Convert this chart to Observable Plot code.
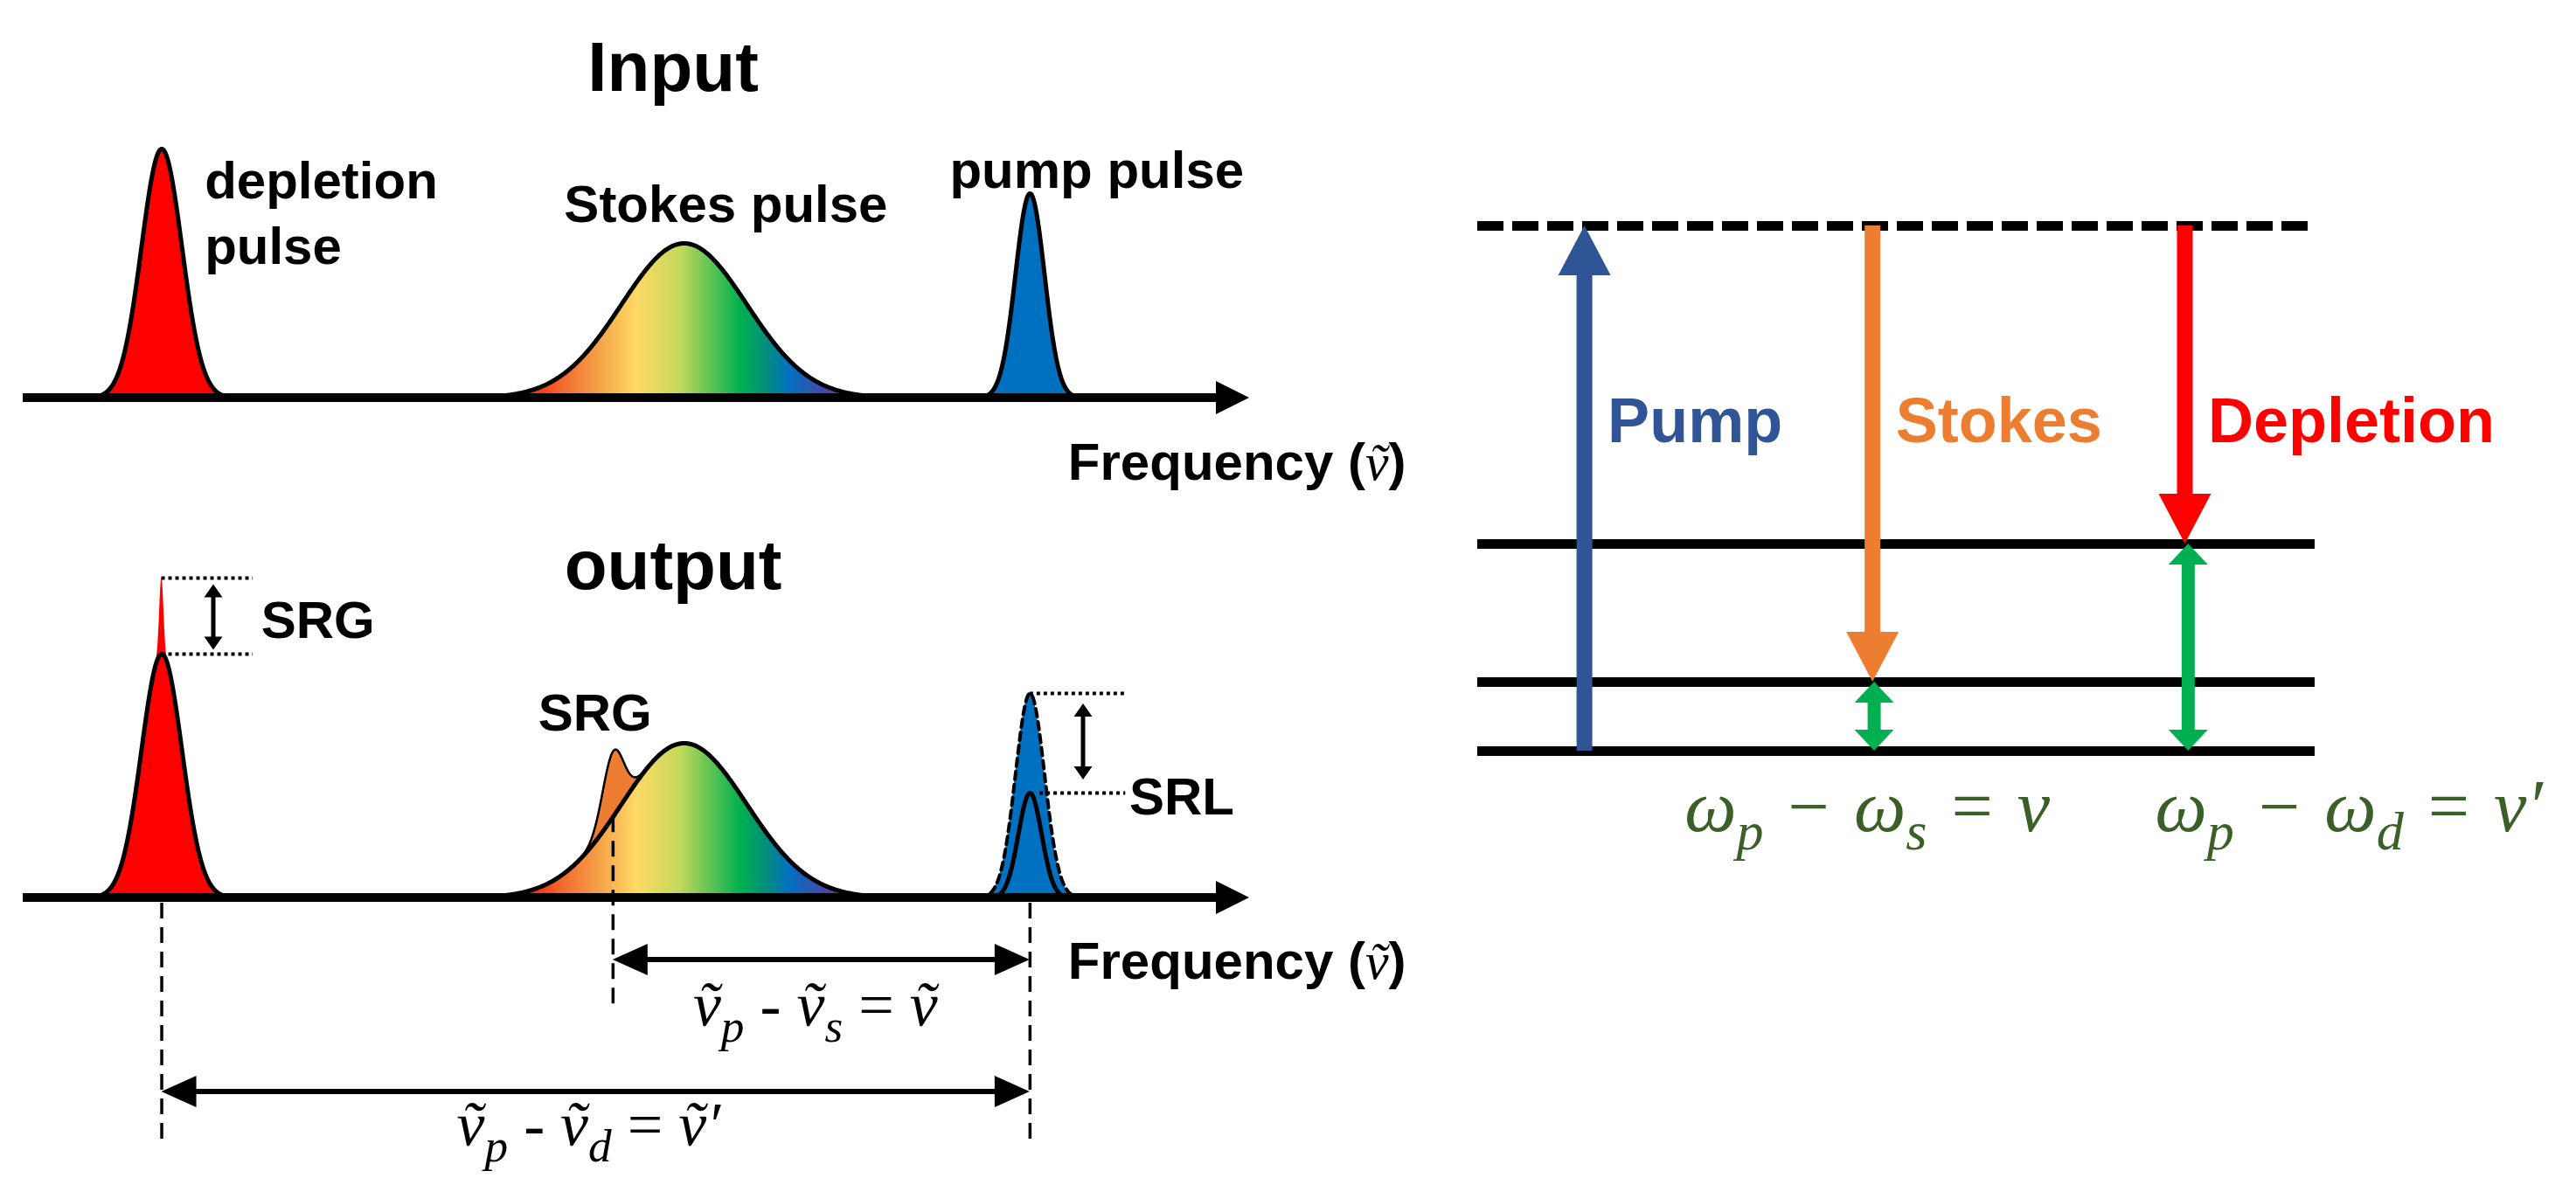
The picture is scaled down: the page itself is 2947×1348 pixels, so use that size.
<!DOCTYPE html>
<html>
<head>
<meta charset="utf-8">
<script src="https://cdn.jsdelivr.net/npm/d3@7"></script>
<script src="https://cdn.jsdelivr.net/npm/@observablehq/plot@0.6"></script>
<style>
  html, body { margin: 0; padding: 0; background: #fff; }
  #figure { position: relative; width: 2947px; height: 1348px; overflow: hidden; background: #fff; }
  #figure > svg { position: absolute; }
</style>
</head>
<body>
<div id="figure"></div>
<script>
// ================= DATA =================
// Spectral pulses (frequency and intensity in arbitrary units)
const pulseNames  = ["depletion", "Stokes", "pump"];
const pulseCenter = [11.3, 53.9, 82.1];
const pulseSigma  = [1.65, 5.1, 1.18];
const inputAmp    = [0.95, 0.59, 0.78];
const outputAmp   = [0.93, 0.59, 0.40];
const outputSigma = [1.65, 5.1, 0.95];
// Stimulated Raman gain features added to the output spectrum
const gainNames  = ["SRG depletion", "SRG Stokes"];
const gainCenter = [11.3, 48.1];
const gainSigma  = [0.17, 0.85];
const gainAmp    = [0.29, 0.25];
// Colour gradient of the broadband Stokes pulse (frequency -> colour)
const gradFreq  = [40, 44, 47, 50, 53.5, 58.5, 60.5, 62.5, 67];
const gradColor = ["#FF0000", "#F26B2E", "#F5A247", "#FFD966", "#C5D95A", "#00B050", "#00907A", "#0070C0", "#7030A0"];
// Energy-level diagram
const levelNames      = ["ground", "\u03BD", "\u03BD\u2032", "virtual"];
const levelEnergy     = [0, 0.79, 2.37, 6.01];
const transitionNames = ["Pump", "Stokes", "Depletion"];
const transitionFrom  = [0, 3, 3];
const transitionTo    = [3, 1, 2];
const transitionPos   = [0.128, 0.472, 0.845];
const vibrationLevel  = [1, 2];
const vibrationPos    = [0.474, 0.849];
const SP = "\u2004";
const equations   = [`\u03C9_p${SP}\u2212${SP}\u03C9_s${SP}=${SP}\u03BD`, `\u03C9_p${SP}\u2212${SP}\u03C9_d${SP}=${SP}\u03BD\u2032`];
const shiftLabels = ["\u1E7D_p - \u1E7D_s = \u1E7D", "\u1E7D_p - \u1E7D_d = \u1E7D\u2032"];
const axisLabel   = "Frequency (\u1E7D)";

// ================= STYLE =================
const SANS  = "'Liberation Sans', Arial, sans-serif";
const SERIF = "'Liberation Serif', 'DejaVu Serif', serif";
const C = {
  depletion: "#FF0000", gain: "#ED7D31", pump: "#0070C0",
  tr: ["#2F5597", "#ED7D31", "#FF0000"], vib: "#00B050", eq: "#3A5F27"
};
const STYLE = {background: "none", overflow: "visible", maxWidth: "none"};

// ================= HELPERS =================
const gaussian = (c, s, a) => f => a * Math.exp(-0.5 * ((f - c) / s) ** 2);
function sampleCurve(lo, hi, fns, n = 600) {
  const pts = [];
  for (let i = 0; i <= n; i++) {
    const f = lo + (hi - lo) * i / n;
    pts.push({f, v: d3.sum(fns, g => g(f))});
  }
  return pts;
}
// arrows drawn from data coordinates via the plot scales (head sizes in px)
function arrowMark(rows, {stroke = "#000", width = 6, headLength = 30, headWidth = 30, heads = "end"} = {}) {
  return (index, scales) => {
    const g = d3.create("svg:g");
    for (const r of rows) {
      const col = r.color ?? stroke;
      const X1 = scales.x(r.x1), Y1 = scales.y(r.y1), X2 = scales.x(r.x2), Y2 = scales.y(r.y2);
      const L = Math.hypot(X2 - X1, Y2 - Y1), ux = (X2 - X1) / L, uy = (Y2 - Y1) / L;
      const hs = heads === "both" || heads === "start", he = heads === "both" || heads === "end";
      const a = hs ? headLength * 0.8 : 0, b = he ? headLength * 0.8 : 0;
      g.append("line")
        .attr("x1", X1 + ux * a).attr("y1", Y1 + uy * a)
        .attr("x2", X2 - ux * b).attr("y2", Y2 - uy * b)
        .attr("stroke", col).attr("stroke-width", width);
      const head = (tx, ty, dx, dy) => {
        const bx = tx - dx * headLength, by = ty - dy * headLength, hw = headWidth / 2;
        return [[tx, ty], [bx - dy * hw, by + dx * hw], [bx + dy * hw, by - dx * hw]].map(p => p.join(",")).join(" ");
      };
      if (he) g.append("polygon").attr("points", head(X2, Y2, ux, uy)).attr("fill", col);
      if (hs) g.append("polygon").attr("points", head(X1, Y1, -ux, -uy)).attr("fill", col);
    }
    return g.node();
  };
}
function gradientDefs(id) {
  return (index, {x}) => {
    const defs = d3.create("svg:defs");
    const lg = defs.append("linearGradient").attr("id", id).attr("gradientUnits", "userSpaceOnUse")
      .attr("x1", x(gradFreq[0])).attr("x2", x(gradFreq[gradFreq.length - 1])).attr("y1", 0).attr("y2", 0);
    const span = gradFreq[gradFreq.length - 1] - gradFreq[0];
    gradFreq.forEach((f, i) => lg.append("stop").attr("offset", (f - gradFreq[0]) / span).attr("stop-color", gradColor[i]));
    return defs.node();
  };
}
const txt = (texts, xs, ys, o = {}) => Plot.text(texts, {
  x: (d, i) => xs[i], y: (d, i) => ys[i], lineAnchor: "bottom",
  fontFamily: SANS, fontWeight: "bold", fill: "#000", textAnchor: "start", ...o
});
// subscripts (_x) and math symbols rendered as real tspans
const MATH = /[\u03BD\u03C9\u1E7D]/;
function richify(svg) {
  svg.querySelectorAll("text").forEach(t => {
    const s = t.textContent;
    if (!/[_\u03BD\u03C9\u1E7D]/.test(s)) return;
    const fs = parseFloat(getComputedStyle(t).fontSize);
    const segs = [];
    for (let i = 0; i < s.length; i++) {
      const c = s[i];
      if (c === "_") { segs.push({t: s[i + 1], sub: true}); i++; continue; }
      if (MATH.test(c)) {
        let g = c;
        while (s[i + 1] === "\u0303" || s[i + 1] === "\u2032") g += s[++i];
        segs.push({t: g, greek: true}); continue;
      }
      const last = segs[segs.length - 1];
      if (last && last.plain) last.t += c; else segs.push({t: c, plain: true});
    }
    t.textContent = "";
    let shift = 0;
    for (const seg of segs) {
      const ts = document.createElementNS("http://www.w3.org/2000/svg", "tspan");
      ts.textContent = seg.t;
      const target = seg.sub ? fs * 0.25 : 0;
      if (target !== shift) { ts.setAttribute("dy", target - shift); shift = target; }
      if (seg.sub) ts.setAttribute("font-size", fs * 0.74);
      if (seg.greek || seg.sub) {
        ts.setAttribute("font-family", SERIF);
        ts.setAttribute("font-style", "italic");
        ts.setAttribute("font-weight", "normal");
      }
      t.appendChild(ts);
    }
  });
}

// ================= CURVES =================
const span = 4.5;
const inCurves = pulseNames.map((n, i) =>
  sampleCurve(pulseCenter[i] - span * pulseSigma[i], pulseCenter[i] + span * pulseSigma[i],
    [gaussian(pulseCenter[i], pulseSigma[i], inputAmp[i])]));
const depMainG = gaussian(pulseCenter[0], outputSigma[0], outputAmp[0]);
const depGainG = gaussian(gainCenter[0], gainSigma[0], gainAmp[0]);
const depRange = [pulseCenter[0] - span * outputSigma[0], pulseCenter[0] + span * outputSigma[0]];
const depOutMain  = sampleCurve(...depRange, [depMainG], 1200);
const depOutTotal = sampleCurve(...depRange, [depMainG, depGainG], 1200);
const stokesG = gaussian(pulseCenter[1], outputSigma[1], outputAmp[1]);
const stokesOut = sampleCurve(pulseCenter[1] - span * outputSigma[1], pulseCenter[1] + span * outputSigma[1], [stokesG]);
const stokesGainCurve = sampleCurve(gainCenter[1] - 4 * gainSigma[1], gainCenter[1] + 4 * gainSigma[1],
  [stokesG, gaussian(gainCenter[1], gainSigma[1], gainAmp[1])], 300);
const pumpOrig  = inCurves[2];
const pumpInner = sampleCurve(pulseCenter[2] - span * outputSigma[2], pulseCenter[2] + span * outputSigma[2],
  [gaussian(pulseCenter[2], outputSigma[2], outputAmp[2])]);

const fig = document.getElementById("figure");
const xFreq = {domain: [0, 100], axis: null};
const axisArrow = arrowMark([{x1: 0, y1: 0, x2: 100, y2: 0}], {width: 10, headLength: 38, headWidth: 38});

// ================= INPUT PANEL =================
const pIn = Plot.plot({
  width: 1650, height: 580, marginLeft: 26, marginRight: 221, marginTop: 155, marginBottom: 125,
  x: xFreq, y: {domain: [0, 1], axis: null}, style: STYLE,
  marks: [
    gradientDefs("gradIn"),
    Plot.areaY(inCurves[0], {x: "f", y: "v", fill: C.depletion}),
    Plot.lineY(inCurves[0], {x: "f", y: "v", stroke: "#000", strokeWidth: 5}),
    Plot.areaY(inCurves[1], {x: "f", y: "v", fill: "url(#gradIn)"}),
    Plot.lineY(inCurves[1], {x: "f", y: "v", stroke: "#000", strokeWidth: 5}),
    Plot.areaY(inCurves[2], {x: "f", y: "v", fill: C.pump}),
    Plot.lineY(inCurves[2], {x: "f", y: "v", stroke: "#000", strokeWidth: 5}),
    axisArrow,
    txt(["Input"], [53], [1.173], {fontSize: 80, textAnchor: "middle"}),
    txt(["depletion", "pulse", "pump pulse", axisLabel], [14.8, 14.8, 75.55, 85.2], [0.763, 0.513, 0.803, -0.31], {fontSize: 60}),
    txt(["Stokes pulse"], [57.3], [0.673], {fontSize: 60, textAnchor: "middle"})
  ]
});
pIn.style.left = "0px"; pIn.style.top = "0px";
fig.appendChild(pIn);

// ================= OUTPUT PANEL =================
const pOut = Plot.plot({
  width: 1650, height: 768, marginLeft: 26, marginRight: 221, marginTop: 147, marginBottom: 321,
  x: xFreq, y: {domain: [0, 1], axis: null}, style: STYLE,
  marks: [
    gradientDefs("gradOut"),
    Plot.areaY(depOutTotal, {x: "f", y: "v", fill: C.depletion}),
    Plot.lineY(depOutMain, {x: "f", y: "v", stroke: "#000", strokeWidth: 5}),
    Plot.areaY(stokesGainCurve, {x: "f", y: "v", fill: C.gain}),
    Plot.lineY(stokesGainCurve, {x: "f", y: "v", stroke: "#000", strokeWidth: 2.5}),
    Plot.areaY(stokesOut, {x: "f", y: "v", fill: "url(#gradOut)"}),
    Plot.lineY(stokesOut, {x: "f", y: "v", stroke: "#000", strokeWidth: 5}),
    Plot.areaY(pumpOrig, {x: "f", y: "v", fill: C.pump}),
    Plot.lineY(pumpOrig, {x: "f", y: "v", stroke: "#000", strokeWidth: 4, strokeDasharray: "9,6"}),
    Plot.lineY(pumpInner, {x: "f", y: "v", stroke: "#000", strokeWidth: 5}),
    // dotted level markers for SRG / SRL
    Plot.ruleY([outputAmp[0] + gainAmp[0], outputAmp[0]], {y: d => d, x1: pulseCenter[0], x2: 18.75, stroke: "#000", strokeWidth: 4, strokeDasharray: "4,4"}),
    Plot.ruleY([inputAmp[2], outputAmp[2]], {y: d => d, x1: (d, i) => [pulseCenter[2], 82.9][i], x2: 89.9, stroke: "#000", strokeWidth: 4, strokeDasharray: "4,4"}),
    axisArrow,
    // dashed drop lines
    Plot.ruleX([pulseCenter[0], gainCenter[1], pulseCenter[2]], {
      x: d => d, y1: (d, i) => [-0.02, stokesG(gainCenter[1]), -0.02][i], y2: (d, i) => [-0.953, -0.437, -0.953][i],
      stroke: "#000", strokeWidth: 3.5, strokeDasharray: "18,10"
    }),
    arrowMark([{x1: 15.54, y1: 1.195, x2: 15.54, y2: 0.945}, {x1: 86.46, y1: 0.74, x2: 86.46, y2: 0.45}],
      {width: 5, headLength: 15, headWidth: 21, heads: "both"}),
    arrowMark([{x1: gainCenter[1], y1: -0.237, x2: pulseCenter[2], y2: -0.237}, {x1: pulseCenter[0], y1: -0.74, x2: pulseCenter[2], y2: -0.74}],
      {width: 6, headLength: 40, headWidth: 36, heads: "both"}),
    txt(["output"], [53], [1.18], {fontSize: 80, textAnchor: "middle"}),
    txt(["SRG", "SRG", "SRL", axisLabel], [19.4, 42.0, 90.2, 85.2], [0.993, 0.64, 0.32, -0.307], {fontSize: 60}),
    txt(shiftLabels, [64.6, 46.1], [-0.487, -0.945], {fontSize: 72, fontFamily: SERIF, fontWeight: "normal", textAnchor: "middle"})
  ]
});
pOut.style.left = "0px"; pOut.style.top = "580px";
fig.appendChild(pOut);

// ================= ENERGY DIAGRAM =================
const pE = Plot.plot({
  width: 1297, height: 1348, marginLeft: 40, marginRight: 299, marginTop: 258, marginBottom: 489,
  x: {domain: [0, 1], axis: null}, y: {domain: [0, levelEnergy[3]], axis: null}, color: {type: "identity"}, style: STYLE,
  marks: [
    Plot.ruleY(levelEnergy.slice(0, 3), {y: d => d, x1: 0, x2: 1, stroke: "#000", strokeWidth: 11}),
    Plot.ruleY([levelEnergy[3]], {y: d => d, x1: 0, x2: 1, stroke: "#000", strokeWidth: 11, strokeDasharray: "30,10"}),
    arrowMark(transitionNames.map((n, i) => ({
      x1: transitionPos[i], y1: levelEnergy[transitionFrom[i]], x2: transitionPos[i], y2: levelEnergy[transitionTo[i]], color: C.tr[i]
    })), {width: 18, headLength: 57, headWidth: 60}),
    arrowMark(vibrationLevel.map((l, i) => ({x1: vibrationPos[i], y1: levelEnergy[l], x2: vibrationPos[i], y2: levelEnergy[0]})),
      {stroke: C.vib, width: 15, headLength: 24, headWidth: 45, heads: "both"}),
    Plot.text(transitionNames, {x: (d, i) => transitionPos[i], y: () => 3.54, dx: 26, fill: (d, i) => C.tr[i],
      textAnchor: "start", lineAnchor: "bottom", fontFamily: SANS, fontWeight: "bold", fontSize: 72}),
    txt(equations, [0.247, 0.809], [-0.91, -0.91], {fontSize: 84, fontFamily: SERIF, fontWeight: "normal", fill: C.eq})
  ]
});
pE.style.left = "1650px"; pE.style.top = "0px";
fig.appendChild(pE);

[pIn, pOut, pE].forEach(richify);
</script>
</body>
</html>
